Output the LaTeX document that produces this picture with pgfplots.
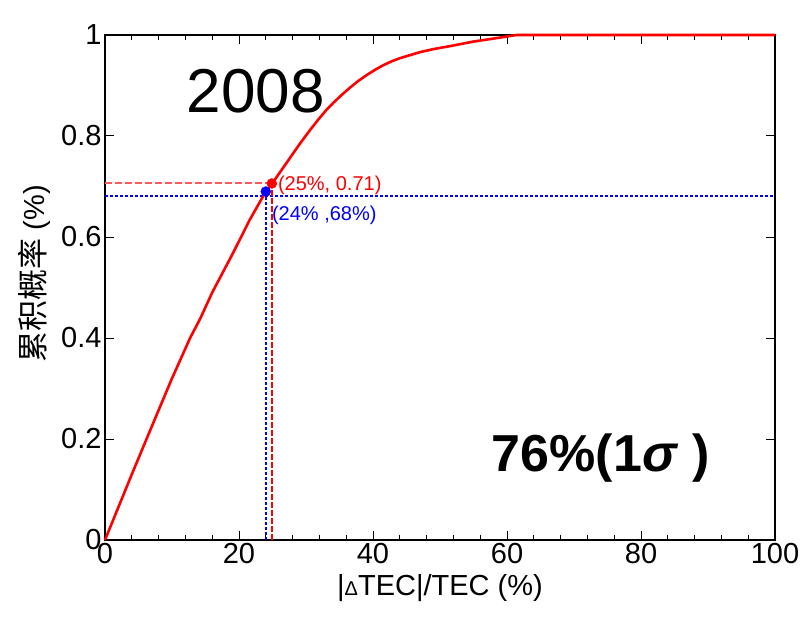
\documentclass[border=0pt]{standalone}
\usepackage{pgfplots}
\pgfplotsset{compat=1.18}
\usepackage{fontspec}
\setmainfont{Liberation Sans}
\newfontfamily\cjk{Noto Sans CJK SC}
\definecolor{lightred}{RGB}{255,90,90}

\begin{document}
\begin{tikzpicture}
\begin{axis}[
  name=ax, at={(0,0)}, anchor=south west,
  scale only axis, width=670pt, height=505pt,
  xmin=0, xmax=100, ymin=0, ymax=1,
  xtick={0,20,...,100}, minor x tick num=4,
  ytick={0,0.2,0.4,0.6,0.8,1},
  tick align=inside, xtick pos=both, ytick pos=both,
  major tick length=9pt, minor tick length=5pt,
  every tick/.style={black, line width=1pt},
  axis line style={line width=1.5pt},
  tick label style={font=\fontsize{29}{29}\selectfont},
  /pgf/number format/assume math mode=true,
  label style={font=\fontsize{29}{29}\selectfont},
  xlabel={|{\fontsize{20}{20}\selectfont Δ}TEC|/TEC (\%)},
  ylabel={{\cjk\fontsize{31}{31}\selectfont 累积概率} (\%)},
  xlabel style={at={(axis description cs:0.5,-0.062)}, anchor=north},
  ylabel style={at={(axis description cs:-0.105,0.527)}, anchor=center},
  clip=false,
]
  % reference lines
  \addplot[draw=blue, line width=1.2pt, dash pattern=on 3pt off 2pt] coordinates {(0,0.681) (100,0.681)};
  \addplot[draw=blue, line width=1.4pt, dash pattern=on 3pt off 2pt] coordinates {(24,0) (24,0.69)};
  \addplot[draw=red, line width=1.4pt, dash pattern=on 6pt off 2pt] coordinates {(24.9,0) (24.9,0.706)};
  \addplot[draw=lightred, line width=1.6pt, dash pattern=on 7pt off 3pt] coordinates {(0,0.7065) (24.9,0.7065)};

  % cumulative distribution
  \addplot[red, line width=2.6pt, line join=round] coordinates {
    (0,0) (2,0.065) (4,0.13) (6.2,0.2) (8,0.257) (10,0.32) (12.7,0.4)
    (14.2,0.438) (16,0.49) (19.1,0.568) (21.6,0.634) (24,0.690) (24.9,0.705)
    (27,0.745) (29.1,0.785) (30.5,0.81) (31.8,0.832) (33,0.851) (34.1,0.866)
    (35.3,0.881) (36.5,0.895) (37.8,0.909) (39.1,0.921) (40.3,0.931)
    (41.5,0.94) (42.8,0.948) (44,0.954) (45.5,0.960) (47,0.966) (49,0.972)
    (51.5,0.978) (55,0.987) (59,0.995) (61.4,1.0) (100,1.0)
  };

  \addplot[only marks, mark=*, red, mark size=5pt] coordinates {(24.9,0.706)};
  \addplot[only marks, mark=*, blue, mark size=5pt] coordinates {(24,0.69)};

  \node[red, inner sep=0pt, anchor=base west, font=\fontsize{20}{20}\selectfont] at (axis cs:25.8,0.693) {(25\%, 0.71)};
  \node[blue, inner sep=0pt, anchor=base west, font=\fontsize{20}{20}\selectfont] at (axis cs:24.9,0.632) {(24\% ,68\%)};
  \node[inner sep=0pt, font=\fontsize{62}{62}\selectfont] at (axis cs:22.5,0.889) {2008};
  \node[inner sep=0pt, anchor=base west, font=\bfseries\fontsize{52}{52}\selectfont] at (axis cs:57.7,0.135) {76\%(1\textit{σ} )};
\end{axis}
\pgfresetboundingbox
\path ([shift={(-105pt,-76pt)}]ax.south west) rectangle ([shift={(30pt,35pt)}]ax.north east);
\end{tikzpicture}
\end{document}
